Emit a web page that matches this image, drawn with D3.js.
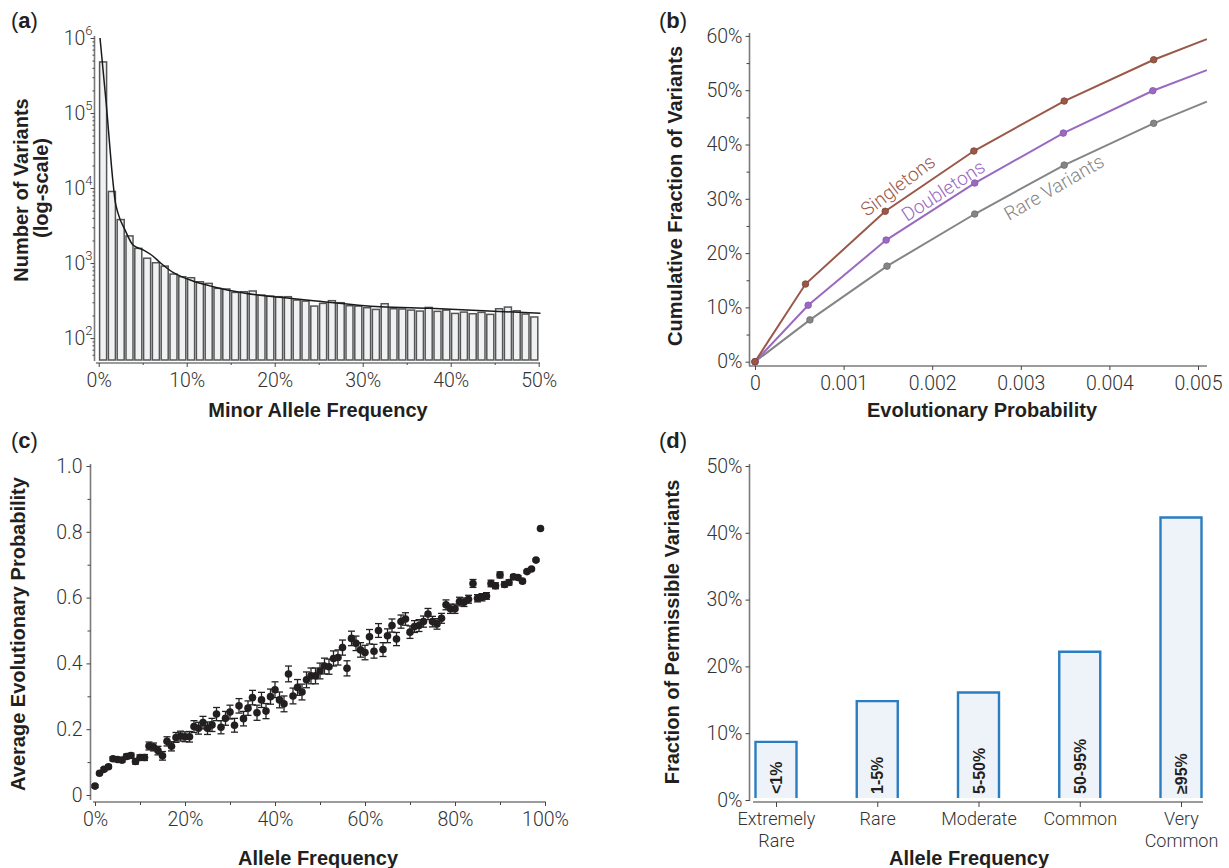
<!DOCTYPE html>
<html>
<head>
<meta charset="utf-8">
<script src="https://cdn.jsdelivr.net/npm/d3@7"></script>
<style>
  body { margin: 0; background: #fff; }
</style>
</head>
<body>
<div id="chart"></div>
<script>
// ---------- data ----------
// (a) variants per 1% minor allele frequency bin
const mafBins = d3.range(50);
const mafCounts = [480000, 9000, 3800, 2300, 1570, 1160, 1010, 910, 713, 657,
                   637, 563, 536, 460, 451, 406, 415, 424, 374, 363,
                   356, 356, 321, 311, 267, 290, 315, 296, 270, 267,
                   254, 241, 287, 246, 244, 236, 229, 256, 227, 236,
                   213, 222, 211, 220, 207, 246, 259, 231, 209, 191];
// fitted curve
const fitMaf = [0.15, 0.85, 1.6, 1.85, 2.2, 3.0, 3.9, 5.1, 6.0, 7.0, 8.5, 10.4, 13, 16.8, 20.6, 24.4, 32, 37.6, 50.2];
const fitCount = [1000000, 136000, 12800, 6900, 4600, 2750, 1740, 1490, 1280, 1010, 743, 593, 483, 394, 349, 314, 261, 249, 214];
const mafTicks = [0, 10, 20, 30, 40, 50];

// (b) cumulative fraction of variants vs evolutionary probability
const evoTicks = [0, 0.001, 0.002, 0.003, 0.004, 0.005];
const singX = [0, 0.00057, 0.00147, 0.00247, 0.00349, 0.0045, 0.0051];
const singY = [0, 14.3, 27.7, 38.8, 48.0, 55.6, 59.4];
const doubX = [0, 0.0006, 0.00148, 0.00248, 0.00348, 0.00449, 0.0051];
const doubY = [0, 10.4, 22.4, 32.9, 42.1, 49.9, 53.7];
const rareX = [0, 0.00062, 0.00149, 0.00248, 0.00349, 0.0045, 0.0051];
const rareY = [0, 7.7, 17.6, 27.2, 36.2, 43.9, 47.9];
const cumTicks = [0, 10, 20, 30, 40, 50, 60];

// (c) average evolutionary probability per 1% allele frequency
const afPct = d3.range(100);
const avgEvo = [0.027, 0.066, 0.078, 0.086, 0.110, 0.108, 0.106, 0.117, 0.120, 0.102,
                0.114, 0.114, 0.149, 0.146, 0.135, 0.119, 0.163, 0.148, 0.175, 0.179,
                0.177, 0.177, 0.208, 0.203, 0.220, 0.203, 0.213, 0.246, 0.206, 0.233,
                0.252, 0.212, 0.271, 0.232, 0.264, 0.296, 0.250, 0.289, 0.255, 0.299,
                0.320, 0.289, 0.277, 0.368, 0.301, 0.327, 0.313, 0.350, 0.362, 0.362,
                0.377, 0.392, 0.390, 0.415, 0.418, 0.448, 0.385, 0.476, 0.461, 0.441,
                0.433, 0.481, 0.437, 0.500, 0.442, 0.484, 0.515, 0.474, 0.527, 0.535,
                0.495, 0.512, 0.515, 0.527, 0.550, 0.527, 0.520, 0.537, 0.578, 0.566,
                0.566, 0.588, 0.586, 0.595, 0.643, 0.598, 0.601, 0.605, 0.643, 0.636,
                0.669, 0.640, 0.646, 0.663, 0.661, 0.650, 0.679, 0.687, 0.714, 0.810];
const avgEvoErr = [0.004, 0.004, 0.005, 0.005, 0.006, 0.006, 0.006, 0.007, 0.007, 0.008,
                   0.008, 0.009, 0.012, 0.012, 0.013, 0.013, 0.014, 0.014, 0.015, 0.015,
                   0.015, 0.016, 0.018, 0.018, 0.019, 0.019, 0.020, 0.020, 0.020, 0.021,
                   0.021, 0.021, 0.022, 0.022, 0.022, 0.022, 0.023, 0.023, 0.023, 0.023,
                   0.024, 0.024, 0.024, 0.024, 0.024, 0.024, 0.024, 0.024, 0.024, 0.024,
                   0.024, 0.024, 0.023, 0.023, 0.023, 0.023, 0.023, 0.022, 0.022, 0.022,
                   0.022, 0.022, 0.021, 0.021, 0.021, 0.021, 0.020, 0.020, 0.020, 0.019,
                   0.019, 0.018, 0.018, 0.017, 0.017, 0.016, 0.016, 0.015, 0.015, 0.014,
                   0.014, 0.013, 0.013, 0.012, 0.012, 0.011, 0.011, 0.010, 0.010, 0.009,
                   0.009, 0.008, 0.008, 0.007, 0.006, 0.005, 0.004, 0.004, 0.003, 0.003];
const afTicks = [0, 20, 40, 60, 80, 100];
const evoAvgTicks = [0, 0.2, 0.4, 0.6, 0.8, 1.0];

// (d) fraction of permissible variants by allele frequency class
const freqClasses = [["Extremely", "Rare"], ["Rare"], ["Moderate"], ["Common"], ["Very", "Common"]];
const freqRanges = ["<1%", "1-5%", "5-50%", "50-95%", "\u226595%"];
const permissible = [8.7, 14.8, 16.1, 22.2, 42.3];
const permTicks = [0, 10, 20, 30, 40, 50];

// ---------- svg ----------
const svg = d3.select('#chart').append('svg')
  .attr('width', 1229)
  .attr('height', 868)
  .style('background', '#fff');

const axisColor = '#7a7a7a';
const lightFont = 'Roboto, "Liberation Sans", sans-serif';
const boldFont = '"Liberation Sans", Arial, sans-serif';

function lbl(sel, size) {
  return sel.style('font-family', lightFont)
    .style('font-weight', 300)
    .style('font-size', (size || 19.5) + 'px')
    .style('fill', '#333');
}
function vline(x, y1, y2) {
  svg.append('line').attr('x1', x).attr('x2', x).attr('y1', y1).attr('y2', y2)
    .attr('stroke', axisColor).attr('stroke-width', 1.6);
}
function hline(y, x1, x2) {
  svg.append('line').attr('x1', x1).attr('x2', x2).attr('y1', y).attr('y2', y)
    .attr('stroke', axisColor).attr('stroke-width', 1.6);
}
// axis helper: ticks from d3 axis, labels restyled
function axis(gen, transform, size, fmt) {
  const g = svg.append('g').attr('transform', transform)
    .call(gen.tickSize(size).tickSizeOuter(0).tickFormat(fmt || ''));
  g.select('.domain').remove();
  g.selectAll('.tick line').attr('stroke', '#444').attr('stroke-width', 1);
  lbl(g.selectAll('.tick text'));
  return g;
}
function panelLabel(x, y, letter) {
  const t = svg.append('text').attr('x', x).attr('y', y)
    .style('font-family', boldFont).style('font-size', '22px').style('fill', '#231f20');
  t.append('tspan').text('(');
  t.append('tspan').style('font-weight', 'bold').text(letter);
  t.append('tspan').text(')');
}
function title(sel) {
  return sel.style('font-family', boldFont)
    .style('font-weight', 'bold')
    .style('font-size', '20px')
    .style('fill', '#231f20')
    .attr('text-anchor', 'middle');
}
function vTitle(x, y, txt) {
  title(svg.append('text'))
    .attr('transform', `translate(${x},${y}) rotate(-90)`)
    .text(txt);
}
function hTitle(x, y, txt) {
  title(svg.append('text')).attr('x', x).attr('y', y).text(txt);
}

// ================= (a) =================
const xA = d3.scaleLinear().domain([0, 50]).range([98.7, 538.7]);
const yA = d3.scaleLog().domain([51, 1e6]).range([360, 38]);

svg.append('g').selectAll('rect')
  .data(mafCounts)
  .join('rect')
  .attr('x', (d, i) => xA(mafBins[i]) + 0.9)
  .attr('width', xA(1) - xA(0) - 1.8)
  .attr('y', d => yA(d))
  .attr('height', d => yA.range()[0] - yA(d))
  .attr('fill', '#eff1f3')
  .attr('stroke', '#555')
  .attr('stroke-width', 1.5);

const fitLine = d3.line()
  .x(d => xA(d[0]))
  .y(d => yA(d[1]))
  .curve(d3.curveMonotoneX);
svg.append('path')
  .attr('d', fitLine(d3.zip(fitMaf, fitCount)))
  .attr('fill', 'none')
  .attr('stroke', '#1a1a1a')
  .attr('stroke-width', 1.5);

vline(94.5, 36, 361);
hline(363, 96, 540);
// log ticks
const majorA = [1e2, 1e3, 1e4, 1e5, 1e6];
const minorA = [];
[10, 100, 1000, 10000, 100000].forEach(b => {
  for (let k = 2; k <= 9; k++) if (b * k >= 51 && b * k <= 1e6) minorA.push(b * k);
});
axis(d3.axisLeft(yA).tickValues(minorA), 'translate(94.5,0)', 2);
const yAx = axis(d3.axisLeft(yA).tickValues(majorA), 'translate(94.5,0)', 4);
lbl(yAx.selectAll('.tick').append('text'))
  .attr('x', -2)
  .attr('y', 6)
  .attr('text-anchor', 'end')
  .each(function(d) {
    const t = d3.select(this);
    t.append('tspan').text('10');
    t.append('tspan').attr('dy', -10).style('font-size', '13px').text(Math.round(Math.log10(d)));
  });
axis(d3.axisBottom(xA).tickValues([5, 15, 25, 35, 45]), 'translate(0,363)', 2);
const xAx = axis(d3.axisBottom(xA).tickValues(mafTicks), 'translate(0,363)', 4, d => d + '%');
xAx.selectAll('.tick text').attr('y', 17).attr('dy', '0.35em');

panelLabel(11, 28, 'a');
vTitle(28, 190, 'Number of Variants');
vTitle(48, 188, '(log-scale)');
hTitle(318, 417, 'Minor Allele Frequency');

// ================= (b) =================
const xB = d3.scaleLinear().domain([0, 0.005]).range([755, 1198]);
const yB = d3.scaleLinear().domain([0, 60]).range([361.7, 35.9]);

vline(749.5, 33, 366);
hline(366, 749, 1207);
axis(d3.axisLeft(yB).tickValues([5, 15, 25, 35, 45, 55]), 'translate(749.5,0)', 3);
const yBx = axis(d3.axisLeft(yB).tickValues(cumTicks), 'translate(749.5,0)', 4, d => d + '%');
yBx.selectAll('.tick text').attr('x', -7);
const xBx = axis(d3.axisBottom(xB).tickValues(evoTicks), 'translate(0,366)', 4,
  d => d === 0 ? '0' : d3.format('.3f')(d));
xBx.selectAll('.tick text').attr('y', 17).attr('dy', '0.35em');

const seriesB = [
  { name: 'Rare Variants', xs: rareX, ys: rareY, color: '#858585', dark: '#6e6e6e' },
  { name: 'Doubletons', xs: doubX, ys: doubY, color: '#9a6ac0', dark: '#8456ab' },
  { name: 'Singletons', xs: singX, ys: singY, color: '#9a5848', dark: '#7e4436' }
];
const lineB = d3.line().x(d => xB(d[0])).y(d => yB(d[1]));
seriesB.forEach(s => {
  const pts = d3.zip(s.xs, s.ys);
  svg.append('path')
    .attr('d', lineB(pts))
    .attr('fill', 'none')
    .attr('stroke', s.color)
    .attr('stroke-width', 2);
  svg.append('g').selectAll('circle')
    .data(pts.slice(0, -1))
    .join('circle')
    .attr('cx', d => xB(d[0]))
    .attr('cy', d => yB(d[1]))
    .attr('r', 3.3)
    .attr('fill', s.color)
    .attr('stroke', s.dark)
    .attr('stroke-width', 0.8);
});
const seriesLabels = [
  { text: 'Singletons', x: 867, y: 217, a: -37, color: '#9a5848' },
  { text: 'Doubletons', x: 907, y: 222, a: -33, color: '#9a6ac0' },
  { text: 'Rare Variants', x: 1009, y: 221, a: -30, color: '#858585' }
];
svg.append('g').selectAll('text')
  .data(seriesLabels)
  .join('text')
  .attr('transform', d => `translate(${d.x},${d.y}) rotate(${d.a})`)
  .style('fill', d => d.color)
  .style('font-family', lightFont)
  .style('font-weight', 300)
  .style('font-size', '19px')
  .text(d => d.text);

panelLabel(659, 28, 'b');
vTitle(682, 196, 'Cumulative Fraction of Variants');
hTitle(982, 417, 'Evolutionary Probability');

// ================= (c) =================
const xC = d3.scaleLinear().domain([0, 100]).range([95, 545]);
const yC = d3.scaleLinear().domain([0, 1]).range([795, 466]);

vline(90.5, 464, 800);
hline(802, 93, 546);
axis(d3.axisLeft(yC).tickValues([0.1, 0.3, 0.5, 0.7, 0.9]), 'translate(90.5,0)', 3);
const yCx = axis(d3.axisLeft(yC).tickValues(evoAvgTicks), 'translate(90.5,0)', 4,
  d => d === 0 ? '0' : d3.format('.1f')(d));
yCx.selectAll('.tick text').attr('x', -8);
axis(d3.axisBottom(xC).tickValues([10, 30, 50, 70, 90]), 'translate(0,802)', 3);
const xCx = axis(d3.axisBottom(xC).tickValues(afTicks), 'translate(0,802)', 4, d => d + '%');
xCx.selectAll('.tick text').attr('y', 17).attr('dy', '0.35em');

const ptsC = afPct.map((p, i) => ({ p: p, v: avgEvo[i], e: avgEvoErr[i] }));
const errG = svg.append('g').attr('stroke', '#222').attr('stroke-width', 1.3);
ptsC.forEach(d => {
  const x = xC(d.p), y1 = yC(d.v - d.e), y2 = yC(d.v + d.e);
  errG.append('line').attr('x1', x).attr('x2', x).attr('y1', y1).attr('y2', y2);
  errG.append('line').attr('x1', x - 3.5).attr('x2', x + 3.5).attr('y1', y1).attr('y2', y1);
  errG.append('line').attr('x1', x - 3.5).attr('x2', x + 3.5).attr('y1', y2).attr('y2', y2);
});
svg.append('g').selectAll('circle')
  .data(ptsC)
  .join('circle')
  .attr('cx', d => xC(d.p))
  .attr('cy', d => yC(d.v))
  .attr('r', 3.8)
  .attr('fill', '#231f20');

panelLabel(11, 448, 'c');
vTitle(25, 634, 'Average Evolutionary Probability');
hTitle(318, 865, 'Allele Frequency');

// ================= (d) =================
const xD = d3.scalePoint().domain(d3.range(freqClasses.length)).range([776, 1181]);
const yD = d3.scaleLinear().domain([0, 50]).range([800, 466]);
const barW = 41;

vline(749.5, 464, 801);
hline(802, 753, 1203);
const yDx = axis(d3.axisLeft(yD).tickValues(permTicks), 'translate(749.5,0)', 4, d => d + '%');
yDx.selectAll('.tick text').attr('x', -7);
const xDx = axis(d3.axisBottom(xD), 'translate(0,802)', 5);
// one text per line so the two-line labels stay separate
xDx.selectAll('.tick').each(function(d) {
  const t = d3.select(this);
  freqClasses[d].forEach((w, j) => {
    lbl(t.append('text'), 18)
      .attr('text-anchor', 'middle')
      .attr('y', 23 + j * 21.5)
      .text(w);
  });
});

const barBase = 798;
const barsD = svg.append('g').selectAll('g')
  .data(permissible)
  .join('g');
barsD.append('rect')
  .attr('x', (d, i) => xD(i) - barW / 2)
  .attr('width', barW)
  .attr('y', d => yD(d))
  .attr('height', d => barBase - yD(d))
  .attr('fill', '#eef3f9');
barsD.append('path')
  .attr('d', (d, i) => `M${xD(i) - barW / 2},${barBase}V${yD(d)}H${xD(i) + barW / 2}V${barBase}`)
  .attr('fill', 'none')
  .attr('stroke', '#2a7dc0')
  .attr('stroke-width', 2.4);
title(barsD.append('text'))
  .style('font-size', '16px')
  .attr('text-anchor', 'start')
  .attr('transform', (d, i) => `translate(${xD(i) + 6},${barBase - 4}) rotate(-90)`)
  .text((d, i) => freqRanges[i]);

panelLabel(659, 448, 'd');
vTitle(679, 632, 'Fraction of Permissible Variants');
hTitle(969, 865, 'Allele Frequency');
</script>
</body>
</html>
